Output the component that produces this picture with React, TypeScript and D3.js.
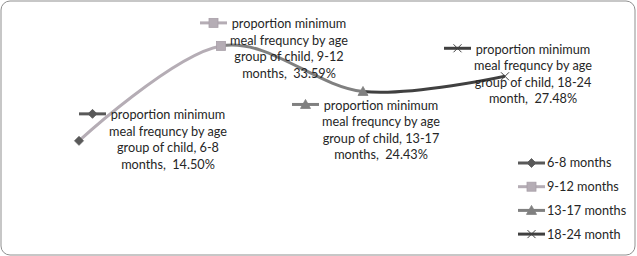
import React from "react";
import * as d3 from "d3";

const categories = ["6-8 months", "9-12 months", "13-17 months", "18-24 month"];
const values = [14.5, 33.59, 24.43, 27.48];
const valueLabels = ["14.50%", "33.59%", "24.43%", "27.48%"];
const legendNames = ["6-8 months", "9-12 months", "13-17 months", "18-24 month"];

const colors = ["#595959", "#b5adb5", "#808080", "#404040"];
const markers = ["diamond", "square", "triangle", "x"];
// label offsets relative to each point (dx to text centre, dy to first line centre)
const labelOffsets = [
  [89, -26],
  [68, -22],
  [18, 14],
  [28, -27],
];

const W = 637;
const H = 256;
const FONT = "Lato, 'Open Sans', sans-serif";
const FS = 12.7;

function Marker({ type, x, y, color }: { type: string; x: number; y: number; color: string }) {
  if (type === "diamond") {
    const s = 4.5;
    return <path d={`M${x},${y - s}L${x + s},${y}L${x},${y + s}L${x - s},${y}Z`} fill={color} stroke={color} strokeWidth={0.8} />;
  }
  if (type === "square") {
    const s = 4.5;
    return <rect x={x - s} y={y - s} width={2 * s} height={2 * s} fill={color} stroke="#a89fa8" strokeWidth={0.8} />;
  }
  if (type === "triangle") {
    const s = 5;
    return <path d={`M${x},${y - s}L${x + s},${y + s * 0.8}L${x - s},${y + s * 0.8}Z`} fill={color} stroke={color} strokeWidth={0.8} />;
  }
  const s = 4;
  return (
    <path d={`M${x - s},${y - s}L${x + s},${y + s}M${x - s},${y + s}L${x + s},${y - s}`} stroke={color} strokeWidth={1} fill="none" />
  );
}

function LegendKey({ i, x, y }: { i: number; x: number; y: number }) {
  return (
    <g>
      <line x1={x} x2={x + 27} y1={y} y2={y} stroke={colors[i]} strokeWidth={3} />
      <Marker type={markers[i]} x={x + 13.5} y={y} color={colors[i]} />
    </g>
  );
}

export default function App() {
  const x = d3.scalePoint<string>().domain(categories).range([79, 505]);
  const y = d3.scaleLinear().domain([0, 40]).range([213, 14]);
  const pts: [number, number][] = categories.map((c, i) => [x(c) as number, y(values[i])]);
  const line = d3.line().curve(d3.curveCardinal.tension(0));
  const pathD = line(pts) || "";

  const labelLines = (i: number) => {
    const cat = categories[i];
    return [
      "proportion minimum",
      "meal frequncy by age",
      `group of child, ${cat.split(" ")[0]}`,
      `${cat.split(" ")[1]},\u00a0 ${valueLabels[i]}`,
    ];
  };

  return (
    <svg width={W} height={H} style={{ position: "absolute", left: 0, top: 0, background: "#fff" }}>
      <defs>
        {pts.slice(1).map((p, i) => (
          <clipPath id={`seg${i}`} key={i}>
            <rect x={pts[i][0]} y={0} width={p[0] - pts[i][0]} height={H} />
          </clipPath>
        ))}
      </defs>
      <rect x={1} y={1} width={634} height={254} rx={9} ry={9} fill="#fff" stroke="#8f8f8f" strokeWidth={1} />
      {pts.slice(1).map((_, i) => (
        <path key={i} d={pathD} fill="none" stroke={colors[i + 1]} strokeWidth={3} clipPath={`url(#seg${i})`} />
      ))}
      {pts.map((p, i) => (
        <Marker key={i} type={markers[i]} x={p[0]} y={p[1]} color={colors[i]} />
      ))}
      {pts.map((p, i) => {
        const cx = p[0] + labelOffsets[i][0];
        const cy = p[1] + labelOffsets[i][1];
        return (
          <g key={i}>
            <LegendKey i={i} x={cx - 89} y={cy - 1} />
            {labelLines(i).map((t, j) => (
              <text
                key={j}
                x={cx}
                y={cy + j * 16.4}
                dy="0.35em"
                textAnchor="middle"
                fontFamily={FONT}
                fontSize={FS}
                fill="#262626"
              >
                {t}
              </text>
            ))}
          </g>
        );
      })}
      {legendNames.map((n, i) => (
        <g key={n}>
          <LegendKey i={i} x={518} y={163 + i * 23.7} />
          <text x={547} y={163 + i * 23.7} dy="0.35em" fontFamily={FONT} fontSize={FS} fill="#262626">
            {n}
          </text>
        </g>
      ))}
    </svg>
  );
}
